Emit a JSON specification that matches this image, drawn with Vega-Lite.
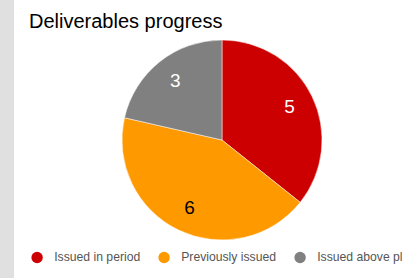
{
  "$schema": "https://vega.github.io/schema/vega-lite/v6.json",
  "width": 416,
  "height": 280,
  "autosize": {"type": "none"},
  "padding": {"left": 14, "top": 0, "right": 0, "bottom": 0},
  "background": "#e0e0e0",
  "view": {"fill": "#ffffff", "stroke": null},
  "title": {
    "text": "Deliverables progress",
    "anchor": "start",
    "frame": "group",
    "orient": "top",
    "offset": 0,
    "dx": 15,
    "dy": 48,
    "baseline": "alphabetic",
    "font": "Liberation Sans",
    "fontSize": 20,
    "fontWeight": "normal",
    "color": "#000000"
  },
  "data": {
    "values": [
      {"category": "Issued in period", "count": 5, "rank": 1},
      {"category": "Previously issued", "count": 6, "rank": 2},
      {"category": "Issued above plan", "count": 3, "rank": 3}
    ]
  },
  "encoding": {
    "theta": {"field": "count", "type": "quantitative", "stack": true},
    "order": {"field": "rank", "type": "quantitative"},
    "color": {
      "field": "category",
      "type": "nominal",
      "sort": ["Issued in period", "Previously issued", "Issued above plan"],
      "scale": {
        "domain": ["Issued in period", "Previously issued", "Issued above plan"],
        "range": ["#cc0000", "#ff9900", "#808080"]
      },
      "legend": {
        "title": null,
        "orient": "none",
        "direction": "horizontal",
        "columns": 3,
        "legendX": 17,
        "legendY": 251,
        "symbolType": "circle",
        "symbolSize": 130,
        "symbolStrokeWidth": 0,
        "symbolOpacity": 1,
        "labelFont": "Liberation Sans",
        "labelFontSize": 12.2,
        "labelColor": "#555555",
        "labelOffset": 11,
        "columnPadding": 17,
        "labelLimit": 300
      }
    }
  },
  "layer": [
    {"mark": {"type": "arc", "outerRadius": 100, "stroke": "#ffffff", "strokeWidth": 0.5}},
    {
      "mark": {"type": "text", "radius": 75, "font": "Liberation Sans", "fontSize": 19},
      "encoding": {
        "text": {"field": "count", "type": "quantitative"},
        "color": {
          "condition": {"test": "datum.category === 'Previously issued'", "value": "#000000"},
          "value": "#ffffff"
        }
      }
    }
  ]
}
